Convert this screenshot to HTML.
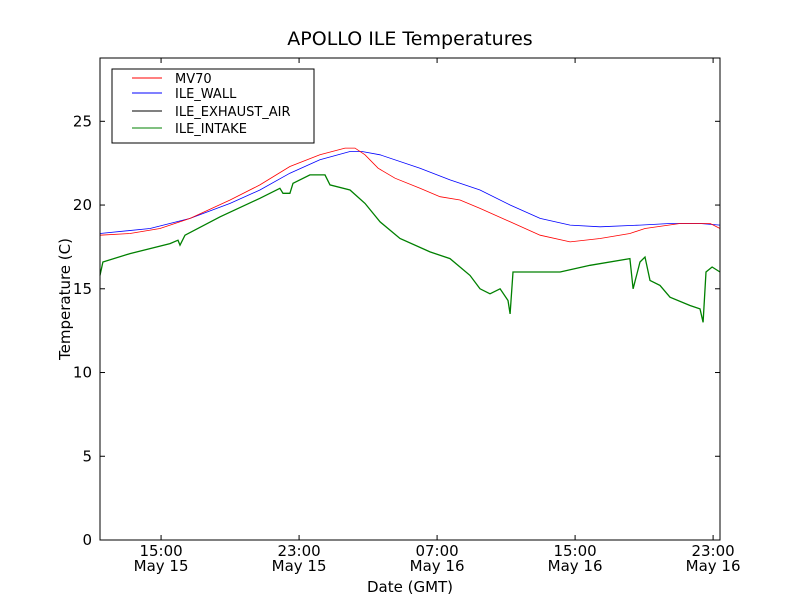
<!DOCTYPE html>
<html><head><meta charset="utf-8"><style>
body{margin:0;background:#fff}
svg text{font-family:"DejaVu Sans","Liberation Sans",sans-serif}
</style></head><body>
<svg id="chart" width="800" height="600" viewBox="0 0 800 600">
<rect width="800" height="600" fill="#fff"/>
<text x="410" y="45" font-size="19" text-anchor="middle">APOLLO ILE Temperatures</text>
<g id="plot"></g>
<rect x="100" y="58" width="620" height="482" fill="none" stroke="#000" stroke-width="1"/>
<text x="410" y="592" font-size="15" text-anchor="middle">Date (GMT)</text>
<text transform="translate(70,299) rotate(-90)" font-size="15" text-anchor="middle">Temperature (C)</text>
<g>
<rect x="112" y="69" width="202" height="74" fill="#fff" stroke="#000"/>
<line x1="132" y1="78" x2="162" y2="78" stroke="#ff0000"/>
<text x="175" y="83" font-size="13">MV70</text>
<line x1="132" y1="93" x2="162" y2="93" stroke="#0000ff"/>
<text x="175" y="98" font-size="13">ILE_WALL</text>
<line x1="132" y1="111" x2="162" y2="111" stroke="#000"/>
<text x="175" y="116" font-size="13">ILE_EXHAUST_AIR</text>
<line x1="132" y1="128" x2="162" y2="128" stroke="#008000"/>
<text x="175" y="133" font-size="13">ILE_INTAKE</text>
</g>
</svg>
<script>
const yTicks=[0,5,10,15,20,25];
const xTickHours=[15,23,31,39,47];
const xTickLabels=[["15:00","May 15"],["23:00","May 15"],["07:00","May 16"],["15:00","May 16"],["23:00","May 16"]];
const mvT=[11.46,13.2,14.94,16.68,19.0,20.73,22.47,24.21,25.66,26.24,26.82,27.58,28.56,30.01,31.17,32.33,33.49,35.23,36.97,38.71,40.45,42.18,43.05,45.08,46.83,47.4];
const mvV=[18.2,18.3,18.6,19.2,20.3,21.2,22.3,23.0,23.4,23.4,23.0,22.2,21.6,21.0,20.5,20.3,19.8,19.0,18.2,17.8,18.0,18.3,18.6,18.9,18.9,18.6];
const wallT=[11.46,14.36,16.68,19.0,20.73,22.47,24.21,25.95,26.65,27.69,30.01,31.75,33.49,35.23,36.97,38.71,40.45,42.76,44.5,46.24,47.4];
const wallV=[18.3,18.6,19.2,20.1,20.9,21.9,22.7,23.2,23.2,23.0,22.2,21.5,20.9,20.0,19.2,18.8,18.7,18.8,18.9,18.9,18.8];
const inT=[11.46,11.63,13.2,15.52,15.98,16.1,16.39,18.42,20.73,21.89,22.07,22.47,22.65,23.63,24.5,24.79,25.95,26.82,27.69,28.85,30.59,31.75,32.91,33.49,34.07,34.65,35.11,35.23,35.4,35.81,38.13,39.87,42.18,42.36,42.76,43.05,43.34,43.92,44.5,45.66,46.24,46.42,46.59,46.94,47.4];
const inV=[15.8,16.6,17.1,17.7,17.9,17.6,18.2,19.3,20.4,21.0,20.7,20.7,21.3,21.8,21.8,21.2,20.9,20.1,19.0,18.0,17.2,16.8,15.8,15.0,14.7,15.0,14.3,13.5,16.0,16.0,16.0,16.4,16.8,15.0,16.6,16.9,15.5,15.2,14.5,14.0,13.8,13.0,16.0,16.3,16.0];
const X0=11.46,X1=47.4,Y0=0,Y1=28.78;
const L=100,R=720,T=58,B=540;
const sx=h=>L+(h-X0)/(X1-X0)*(R-L);
const sy=v=>B-(v-Y0)/(Y1-Y0)*(B-T);
const NS="http://www.w3.org/2000/svg";
const g=document.getElementById('plot');
function mk(tag,attrs){const e=document.createElementNS(NS,tag);for(const k in attrs)e.setAttribute(k,attrs[k]);g.appendChild(e);return e;}
function series(ts,vs,color,name,w){
  const d=ts.map((t,i)=>(i?'L':'M')+sx(t).toFixed(1)+','+sy(vs[i]).toFixed(1)).join('');
  const p=mk('path',{d:d,fill:'none',stroke:color,'stroke-width':w});
  
  
}
series(inT,inV,'#008000','series-ile-intake',1.3);
series(wallT,wallV,'#0000ff','series-ile-wall',0.8);
series(mvT,mvV,'#ff0000','series-mv70',0.8);
yTicks.forEach(v=>{
  const y=sy(v);
  const a=mk('line',{x1:L,y1:y,x2:L+5,y2:y,stroke:'#000'});
  
  
  const b=mk('line',{x1:R-5,y1:y,x2:R,y2:y,stroke:'#000'});
  
  
  const t=mk('text',{x:L-8,y:y+5,'font-size':15,'text-anchor':'end'});
  t.textContent=v;
  
  
});
xTickHours.forEach((h,i)=>{
  const x=sx(h);
  const a=mk('line',{x1:x,y1:B,x2:x,y2:B-5,stroke:'#000'});
  
  
  const b=mk('line',{x1:x,y1:T,x2:x,y2:T+5,stroke:'#000'});
  
  
  xTickLabels[i].forEach((s,j)=>{
    const t=mk('text',{x:x,y:556+j*15,'font-size':15,'text-anchor':'middle'});
    t.textContent=s;
    
    
  });
});
</script>
</body></html>
